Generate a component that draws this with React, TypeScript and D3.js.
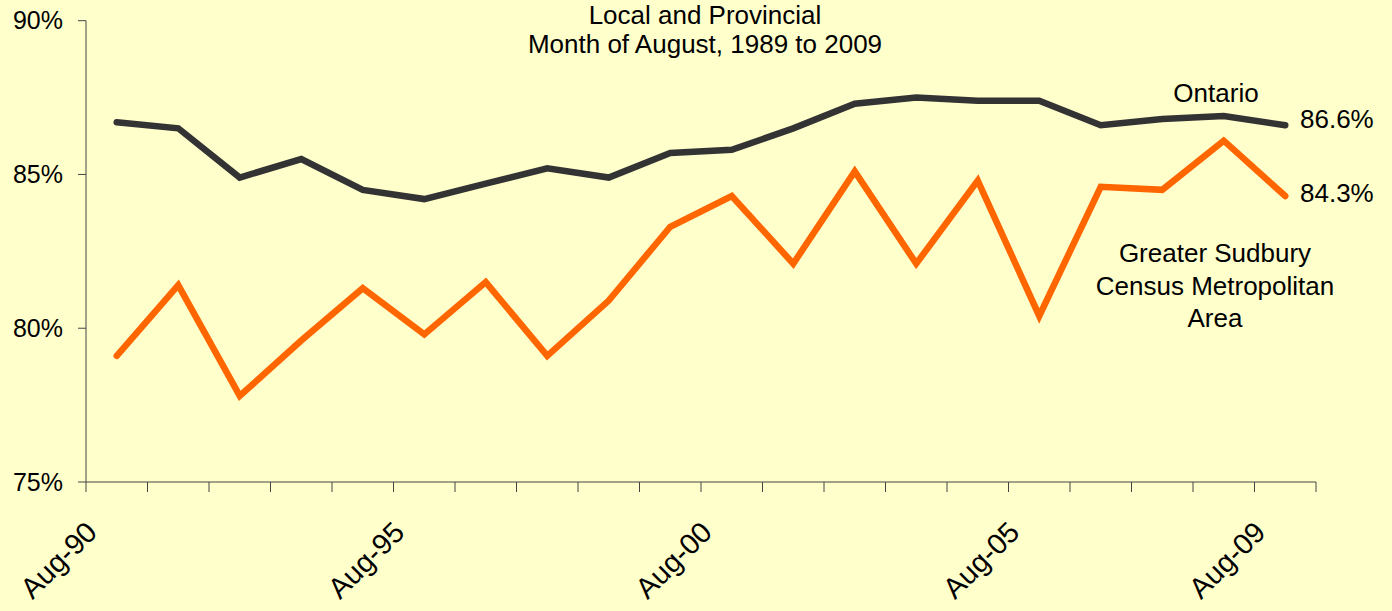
import { useEffect, useRef } from "react";
import * as d3 from "d3";

const categories = [
  "Aug-90", "Aug-91", "Aug-92", "Aug-93", "Aug-94", "Aug-95", "Aug-96", "Aug-97",
  "Aug-98", "Aug-99", "Aug-00", "Aug-01", "Aug-02", "Aug-03", "Aug-04", "Aug-05",
  "Aug-06", "Aug-07", "Aug-08", "Aug-09",
];
const shownLabels = ["Aug-90", "Aug-95", "Aug-00", "Aug-05", "Aug-09"];

const ontario = [
  86.7, 86.5, 84.9, 85.5, 84.5, 84.2, 84.7, 85.2, 84.9, 85.7,
  85.8, 86.5, 87.3, 87.5, 87.4, 87.4, 86.6, 86.8, 86.9, 86.6,
];
const sudbury = [
  79.1, 81.4, 77.8, 79.6, 81.3, 79.8, 81.5, 79.1, 80.9, 83.3,
  84.3, 82.1, 85.1, 82.1, 84.8, 80.4, 84.6, 84.5, 86.1, 84.3,
];
const yTicks = [75, 80, 85, 90];

const width = 1392;
const height = 611;
const font = "'Liberation Sans', Arial, sans-serif";

export default function App() {
  const svgRef = useRef<SVGSVGElement>(null);

  useEffect(() => {
    if (!svgRef.current) return;
    const svg = d3.select(svgRef.current);
    svg.selectAll("*").remove();

    const left = 86;
    const right = 1316;
    const top = 20.7;
    const bottom = 482;

    const x = d3.scaleBand().domain(categories).range([left, right]);
    const y = d3.scaleLinear().domain([75, 90]).range([bottom, top]);
    const cx = (c: string) => (x(c) ?? 0) + x.bandwidth() / 2;

    svg.append("rect").attr("width", width).attr("height", height).attr("fill", "#FFFFCC");

    // title
    const title = svg.append("text").attr("text-anchor", "middle").attr("font-family", font)
      .attr("font-size", 26).attr("fill", "#000");
    title.append("tspan").attr("x", 705).attr("y", 24).text("Local and Provincial");
    title.append("tspan").attr("x", 705).attr("y", 53).text("Month of August, 1989 to 2009");

    // y axis
    const axisColor = "#444";
    svg.append("line").attr("x1", left).attr("x2", left).attr("y1", top).attr("y2", bottom)
      .attr("stroke", axisColor).attr("stroke-width", 1);
    yTicks.forEach((t) => {
      svg.append("line").attr("x1", left - 8).attr("x2", left).attr("y1", y(t)).attr("y2", y(t))
        .attr("stroke", axisColor);
      svg.append("text").attr("x", 63).attr("y", y(t)).attr("dy", "0.35em")
        .attr("text-anchor", "end").attr("font-family", font).attr("font-size", 25)
        .attr("fill", "#000").text(`${t}%`);
    });

    // x axis
    svg.append("line").attr("x1", left).attr("x2", right).attr("y1", bottom).attr("y2", bottom)
      .attr("stroke", axisColor);
    categories.forEach((c) => {
      const xx = x(c) ?? 0;
      svg.append("line").attr("x1", xx).attr("x2", xx).attr("y1", bottom).attr("y2", bottom + 10)
        .attr("stroke", axisColor);
    });
    svg.append("line").attr("x1", right).attr("x2", right).attr("y1", bottom).attr("y2", bottom + 10)
      .attr("stroke", axisColor);
    shownLabels.forEach((c) => {
      const px = cx(c) - 18;
      const py = 534;
      svg.append("text").attr("transform", `translate(${px},${py}) rotate(-45)`)
        .attr("text-anchor", "end").attr("font-family", font).attr("font-size", 29)
        .attr("fill", "#000").text(c);
    });

    const line = d3.line<number>().x((_, i) => cx(categories[i])).y((d) => y(d));

    svg.append("path").datum(ontario).attr("d", line).attr("fill", "none")
      .attr("stroke", "#333333").attr("stroke-width", 6.5).attr("stroke-linejoin", "miter")
      .attr("stroke-linecap", "round");
    svg.append("path").datum(sudbury).attr("d", line).attr("fill", "none")
      .attr("stroke", "#FF6600").attr("stroke-width", 6.5).attr("stroke-linejoin", "miter")
      .attr("stroke-linecap", "round");

    // series labels
    const addText = (tx: number, ty: number, s: string, anchor = "start") =>
      svg.append("text").attr("x", tx).attr("y", ty).attr("text-anchor", anchor)
        .attr("font-family", font).attr("font-size", 26).attr("fill", "#000").text(s);

    addText(1216, 102, "Ontario", "middle");
    addText(1300, 128, `${ontario[ontario.length - 1]}%`);
    addText(1300, 202, `${sudbury[sudbury.length - 1]}%`);
    addText(1215, 262, "Greater Sudbury", "middle");
    addText(1215, 295, "Census Metropolitan", "middle");
    addText(1215, 327, "Area", "middle");
  }, []);

  return (
    <svg ref={svgRef} width={width} height={height}
      style={{ position: "absolute", left: 0, top: 0, display: "block" }} />
  );
}
